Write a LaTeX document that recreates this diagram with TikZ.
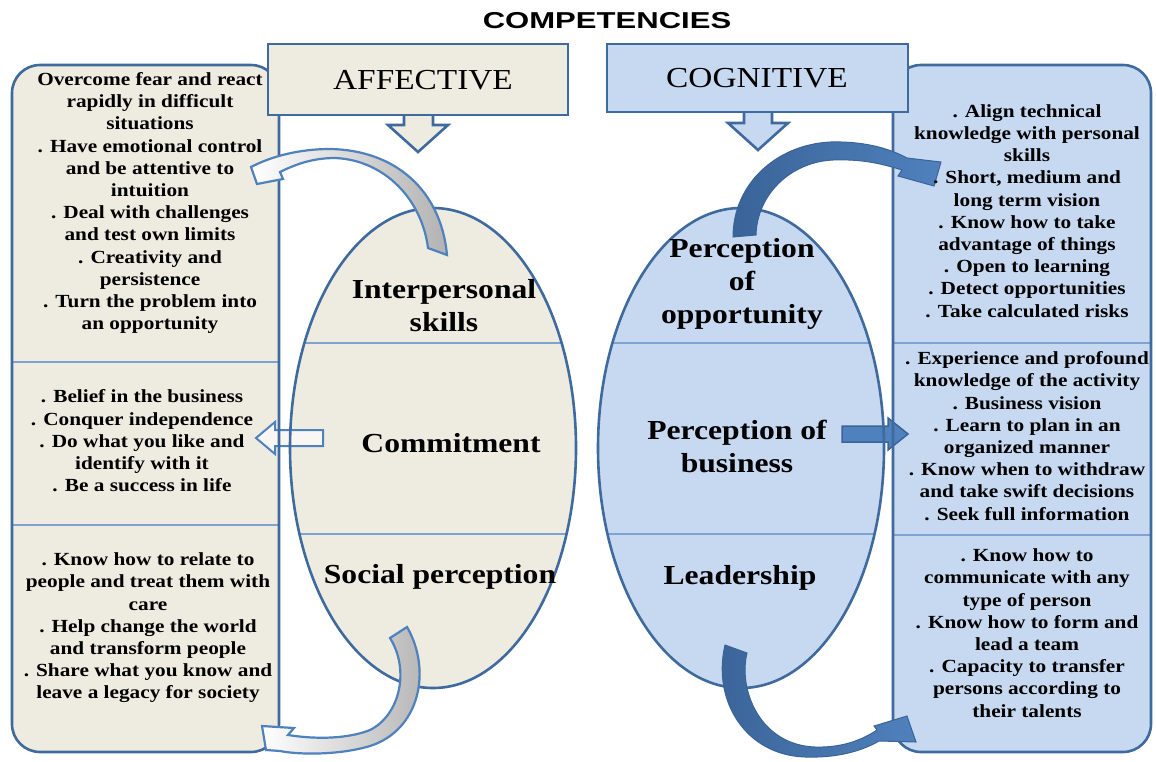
\documentclass[tikz,border=0pt]{standalone}
\usepackage{fontspec}
\setmainfont{Liberation Serif}[FakeStretch=1.15]
\newfontfamily\titlefont{Liberation Sans}[FakeStretch=1.35]
\definecolor{beige}{HTML}{EEECE1}
\definecolor{lblue}{HTML}{C6D9F1}
\definecolor{bord}{HTML}{3F6A9E}
\definecolor{acc}{HTML}{4F81BD}
\definecolor{divl}{HTML}{7FA3D0}
\definecolor{dblue}{HTML}{3A6498}
\tikzset{
 boxline/.style={draw=bord, line width=2.6pt},
 smalltxt/.style={align=center, inner sep=0pt, font=\fontsize{18.5}{22.2}\selectfont\bfseries},
 bigtxt/.style={align=center, inner sep=0pt, font=\fontsize{27.5}{33}\selectfont\bfseries},
 headtxt/.style={inner sep=0pt, font=\fontsize{29}{33}\selectfont},
 divider/.style={draw=divl, line width=1.2pt},
 lightarrow/.style={draw=acc, line width=2.2pt, left color=white, right color=black!30},
 darkarrow/.style={draw=dblue, line width=1pt, left color=dblue, right color=acc},
}
\begin{document}
\begin{tikzpicture}[x=1pt,y=-1pt]
\useasboundingbox (0,0) rectangle (1156,761);
\fill[white] (0,0) rectangle (1156,761);
% fills of side boxes and ellipses
\fill[beige, rounded corners=28pt] (12,65) rectangle (279,752);
\fill[lblue, rounded corners=28pt] (893,65) rectangle (1151,752);
\fill[beige] (433,448) ellipse [x radius=143, y radius=240];
\fill[lblue] (741,448) ellipse [x radius=143, y radius=240];
% dividers
\draw[divider] (13,362) -- (278,362) (13,525) -- (278,525);
\draw[divider] (894,343) -- (1150,343) (894,535) -- (1150,535);
\begin{scope}
 \clip (433,448) ellipse [x radius=143, y radius=240];
 \draw[divider] (280,343) -- (590,343) (280,534) -- (590,534);
\end{scope}
\begin{scope}
 \clip (741,448) ellipse [x radius=143, y radius=240];
 \draw[divider] (590,343) -- (900,343) (590,534) -- (900,534);
\end{scope}
% straight block arrows
\path[draw=acc, line width=2pt, fill=white!60!beige] (323,430) -- (275,430) -- (275,422) -- (256,438) -- (275,454) -- (275,446) -- (323,446) -- cycle;
\path[draw=dblue, line width=1.5pt, fill=acc] (842,426) -- (888,426) -- (888,418) -- (908,434) -- (888,450) -- (888,442) -- (842,442) -- cycle;
% outlines
\draw[boxline, rounded corners=28pt] (12,65) rectangle (279,752);
\draw[boxline, rounded corners=28pt] (893,65) rectangle (1151,752);
\draw[boxline] (433,448) ellipse [x radius=143, y radius=240];
\draw[boxline] (741,448) ellipse [x radius=143, y radius=240];
% header down arrows
\path[boxline, fill=beige] (404,112) -- (404,125) -- (388,125) -- (418,152) -- (448,125) -- (433,125) -- (433,112);
\path[boxline, fill=lblue] (744,110) -- (744,123) -- (728,123) -- (758,150) -- (788,123) -- (772,123) -- (772,110);
% header boxes
\path[boxline, fill=beige] (268,44) rectangle (568,115);
\path[boxline, fill=lblue] (607,44) rectangle (908,112);
% curved arrows
\path[lightarrow] (428,248) -- (447,255) .. controls (441,190) and (395,150) .. (330,149) .. controls (300,149) and (272,156) .. (251,167) -- (257,184) -- (283,179) -- (280,172) .. controls (298,163) and (315,158) .. (335,158) .. controls (385,160) and (422,200) .. (428,248) -- cycle;
\path[lightarrow] (390,638) -- (407,627) .. controls (432,670) and (420,730) .. (370,746) .. controls (340,755) and (300,755) .. (280,751) -- (266,750) -- (262,726) -- (294,728) -- (288,735) .. controls (320,740) and (350,738) .. (370,730) .. controls (400,715) and (410,670) .. (390,638) -- cycle;
\path[darkarrow] (733,237) .. controls (733,185) and (775,145) .. (830,142) .. controls (868,141) and (892,150) .. (907,158) -- (941,162) -- (934,186) -- (898,176) -- (902,170) .. controls (880,163) and (860,159) .. (833,160) .. controls (790,162) and (757,195) .. (756,235) -- cycle;
\path[darkarrow] (725,645) -- (747,653) .. controls (738,690) and (760,745) .. (815,747) .. controls (845,748) and (865,738) .. (877,730) -- (874,726) -- (907,716) -- (916,742) -- (879,741) .. controls (860,752) and (835,758) .. (805,757) .. controls (745,755) and (712,700) .. (725,645) -- cycle;
% title and headers
\node[inner sep=0pt, font=\titlefont\fontsize{23}{26}\selectfont\bfseries] (title) at (607,21) {COMPETENCIES};
\node[headtxt] (aff) at (423,80) {AFFECTIVE};
\node[headtxt] (cog) at (757,78) {COGNITIVE};
% ellipse texts
\node[bigtxt] (inter) at (444,306) {Interpersonal\\skills};
\node[bigtxt] (commit) at (451,443) {Commitment};
\node[bigtxt] (social) at (440,577) {Social perception};
\node[bigtxt] (popp) at (742,284) {Perception\\of\\opportunity};
\node[bigtxt] (pbus) at (737,446) {Perception of\\business};
\node[bigtxt] (lead) at (740,578) {Leadership};
% side texts
\node[smalltxt] (l1) at (150,203) {Overcome fear and react\\rapidly in difficult\\situations\\. Have emotional control\\and be attentive to\\intuition\\. Deal with challenges\\and test own limits\\. Creativity and\\persistence\\. Turn the problem into\\an opportunity};
\node[smalltxt] (l2) at (142,441) {. Belief in the business\\. Conquer independence\\. Do what you like and\\identify with it\\. Be a success in life};
\node[smalltxt] (l3) at (148,628) {. Know how to relate to\\people and treat them with\\care\\. Help change the world\\and transform people\\. Share what you know and\\leave a legacy for society};
\node[smalltxt] (r1) at (1027,211) {. Align technical\\knowledge with personal\\skills\\. Short, medium and\\long term vision\\. Know how to take\\advantage of things\\. Open to learning\\. Detect opportunities\\. Take calculated risks};
\node[smalltxt] (r2) at (1027,436) {. Experience and profound\\knowledge of the activity\\. Business vision\\. Learn to plan in an\\organized manner\\. Know when to withdraw\\and take swift decisions\\. Seek full information};
\node[smalltxt] (r3) at (1027,633) {. Know how to\\communicate with any\\type of person\\. Know how to form and\\lead a team\\. Capacity to transfer\\persons according to\\their talents};
\end{tikzpicture}
\end{document}
